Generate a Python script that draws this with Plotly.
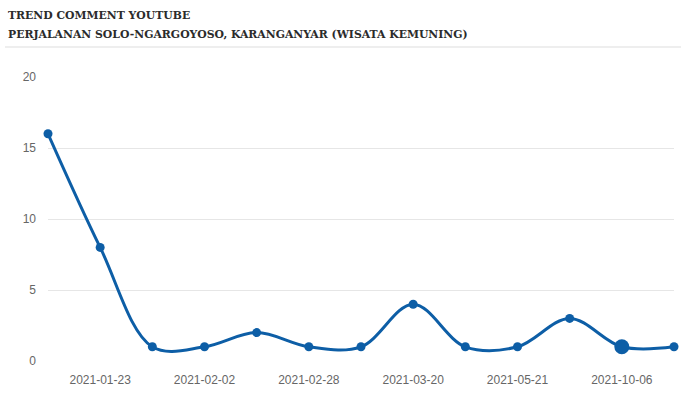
import plotly.graph_objects as go

dates = ["2021-01-22", "2021-01-23", "2021-01-25", "2021-02-02", "2021-02-15",
         "2021-02-28", "2021-03-07", "2021-03-20", "2021-04-10", "2021-05-21",
         "2021-07-15", "2021-10-06", "2021-11-12"]
comments = [16, 8, 1, 1, 2, 1, 1, 4, 1, 1, 3, 1, 1]
tick_labels = ["2021-01-23", "2021-02-02", "2021-02-28", "2021-03-20", "2021-05-21", "2021-10-06"]
title_lines = ["TREND COMMENT YOUTUBE", "PERJALANAN SOLO-NGARGOYOSO, KARANGANYAR (WISATA KEMUNING)"]
highlight = "2021-10-06"

color = "#0d5ea6"
sizes = [15 if d == highlight else 9 for d in dates]

fig = go.Figure()
fig.add_trace(go.Scatter(
    x=dates, y=comments, mode="lines+markers",
    line=dict(color=color, width=3, shape="spline", smoothing=1.0),
    marker=dict(color=color, size=sizes, opacity=1, line=dict(width=0)),
    cliponaxis=False, hoverinfo="skip",
))

fig.update_layout(
    width=681, height=394,
    margin=dict(l=48, r=7, t=77, b=33),
    paper_bgcolor="white", plot_bgcolor="white",
    showlegend=False,
    font=dict(family="Liberation Sans, Arial", color="#666666", size=12),
    xaxis=dict(type="category", range=[0, len(dates) - 1], showgrid=False,
               tickmode="array", tickvals=tick_labels, ticktext=tick_labels,
               ticks="", ticklabelstandoff=10, showline=False, zeroline=False,
               tickfont=dict(size=12, color="#666666")),
    yaxis=dict(range=[0, 20], tickvals=[0, 5, 10, 15, 20], showgrid=True,
               gridcolor="#e6e6e6", gridwidth=1, zeroline=False, showline=False,
               ticks="", ticklabelstandoff=11,
               tickfont=dict(size=12, color="#666666")),
)

ys = [16, 34]
for txt, yp in zip(title_lines, ys):
    fig.add_annotation(
        text="<b>" + txt + "</b>", xref="paper", yref="paper",
        x=(6 - 48) / 626, y=(361 - yp) / 284, xanchor="left", yanchor="middle",
        showarrow=False, font=dict(family="DejaVu Serif", size=10.85, color="#2b2b2b"),
    )
fig.add_shape(type="line", xref="paper", yref="paper",
              x0=(5 - 48) / 626, x1=(681 - 48) / 626,
              y0=(361 - 47) / 284, y1=(361 - 47) / 284,
              line=dict(color="#eeeeee", width=2))

fig.write_html("out.html")
